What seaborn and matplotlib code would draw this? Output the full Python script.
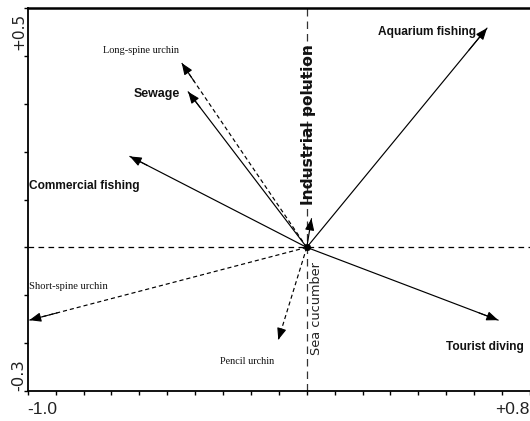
import matplotlib
matplotlib.use("Agg")
import matplotlib.pyplot as plt
from matplotlib import font_manager
import seaborn as sns
import pandas as pd

# ---- data ----
names = ["Aquarium fishing", "Sewage", "Long-spine urchin", "Commercial fishing",
         "Short-spine urchin", "Pencil urchin", "Tourist diving", "Industrial polution"]
x_end = [0.646, -0.425, -0.448, -0.634, -0.994, -0.102, 0.686, 0.017]
y_end = [0.458, 0.325, 0.385, 0.190, -0.152, -0.193, -0.152, 0.060]
kinds = ["env", "env", "species", "env", "species", "species", "env", "env"]
x_ticks = [round(-1.0 + 0.1 * i, 1) for i in range(19)]
y_ticks = [round(-0.3 + 0.1 * i, 1) for i in range(9)]
x_tick_labels = ["-1.0", "+0.8"]
y_tick_labels = ["-0.3", "+0.5"]
extra_label = "Sea cucumber"

# ---- layout (label centres in data coords, target extent in px) ----
label_pos = {
    "Aquarium fishing": (0.431, 0.450, 98),
    "Sewage": (-0.537, 0.320, 46),
    "Long-spine urchin": (-0.594, 0.412, 76),
    "Commercial fishing": (-0.797, 0.128, 110),
    "Short-spine urchin": (-0.856, -0.081, 77),
    "Pencil urchin": (-0.212, -0.238, 54),
    "Tourist diving": (0.640, -0.208, 78),
    "Industrial polution": (0.008, 0.256, 162),
}
sea_cuc_pos = (0.036, -0.128, 93)

sns.set_style("white")
plt.rcParams["font.family"] = ["DejaVu Sans"]

fig = plt.figure(figsize=(5.30, 4.21), dpi=100)
ax = fig.add_axes([27.7 / 530, 1 - 391 / 421, (530 - 27.7) / 530, 383 / 421])

rows = []
for n, xe, ye, k in zip(names, x_end, y_end, kinds):
    rows.append({"name": n, "x": 0.0, "y": 0.0, "kind": k})
    rows.append({"name": n, "x": xe, "y": ye, "kind": k})
df = pd.DataFrame(rows)

ax.axhline(0, color="black", lw=0.9, ls=(0, (4.5, 3.5)), zorder=1)
ax.axvline(0, color="#333333", lw=0.9, ls=(0, (6, 4)), zorder=1)

sns.lineplot(data=df, x="x", y="y", units="name", estimator=None, sort=False,
             style="kind", dashes={"env": "", "species": (3.5, 2.5)},
             color="black", lw=0.85, legend=False, ax=ax, zorder=2)

for xe, ye in zip(x_end, y_end):
    ax.annotate("", xy=(xe, ye), xytext=(xe * 0.9, ye * 0.9),
                arrowprops=dict(arrowstyle="-|>,head_length=0.7,head_width=0.28",
                                color="black", lw=0.8, mutation_scale=10,
                                shrinkA=0, shrinkB=0), zorder=3)

sns.scatterplot(x=[0.0], y=[0.0], color="black", s=22, ax=ax, zorder=4, edgecolor="black")

bold_names = {"Aquarium fishing", "Sewage", "Commercial fishing", "Tourist diving"}
texts = []  # (text artist, target px, rotated)
for n in names:
    px, py, tw = label_pos[n]
    if n == "Industrial polution":
        t = ax.text(px, py, n, rotation=90, ha="center", va="center", color="#111111",
                    fontproperties=font_manager.FontProperties(family="DejaVu Sans", weight="bold", size=10.5))
        texts.append((t, tw, True))
    elif n in bold_names:
        t = ax.text(px, py, n, ha="center", va="center", color="#111111",
                    fontproperties=font_manager.FontProperties(family="Liberation Sans", weight="bold", size=10))
        texts.append((t, tw, False))
    else:
        t = ax.text(px, py, n, ha="center", va="center", color="#111111",
                    fontproperties=font_manager.FontProperties(family="Liberation Serif", size=8.5))
        texts.append((t, tw, False))
t = ax.text(sea_cuc_pos[0], sea_cuc_pos[1], extra_label, rotation=90, ha="center",
            va="center", color="#222222",
            fontproperties=font_manager.FontProperties(family="DejaVu Sans", size=9))
texts.append((t, sea_cuc_pos[2], True))

ax.set_xlim(-1.0, 0.8)
ax.set_ylim(-0.3, 0.5)
ax.set_xticks(x_ticks)
ax.set_yticks(y_ticks)
ax.set_xticklabels([])
ax.set_yticklabels([])
ax.tick_params(axis="both", direction="out", length=3, width=1, color="black",
               bottom=True, left=True)
ax.set_xlabel("")
ax.set_ylabel("")

for s in ["left", "bottom"]:
    ax.spines[s].set_color("black")
    ax.spines[s].set_linewidth(1.3)
ax.spines["top"].set_color("black")
ax.spines["top"].set_linewidth(1.8)
ax.spines["right"].set_visible(False)

ax.text(0.0, -0.048, x_tick_labels[0], transform=ax.transAxes, ha="left", va="center",
        fontproperties=font_manager.FontProperties(family="Liberation Sans", size=12.5),
        color="#222222")
ax.text(1.0, -0.048, x_tick_labels[1], transform=ax.transAxes, ha="right", va="center",
        fontproperties=font_manager.FontProperties(family="Liberation Sans", size=12.5),
        color="#222222")
t = ax.text(-0.017, 0.0, y_tick_labels[0], transform=ax.transAxes, rotation=90,
            ha="center", va="bottom", fontproperties=font_manager.FontProperties(family="DejaVu Sans", size=11),
            color="#222222")
texts.append((t, 32, True))
t = ax.text(-0.017, 1.0 - 5 / 383, y_tick_labels[1], transform=ax.transAxes, rotation=90,
            ha="center", va="top", fontproperties=font_manager.FontProperties(family="DejaVu Sans", size=11),
            color="#222222")
texts.append((t, 37, True))

# fit each label to the extent measured on the reference
fig.canvas.draw()
r = fig.canvas.get_renderer()
for t, target, rot in texts:
    bb = t.get_window_extent(renderer=r)
    cur = bb.height if rot else bb.width
    if cur > 0:
        t.set_fontsize(t.get_fontsize() * target / cur)

fig.savefig("out.png", dpi=100)
